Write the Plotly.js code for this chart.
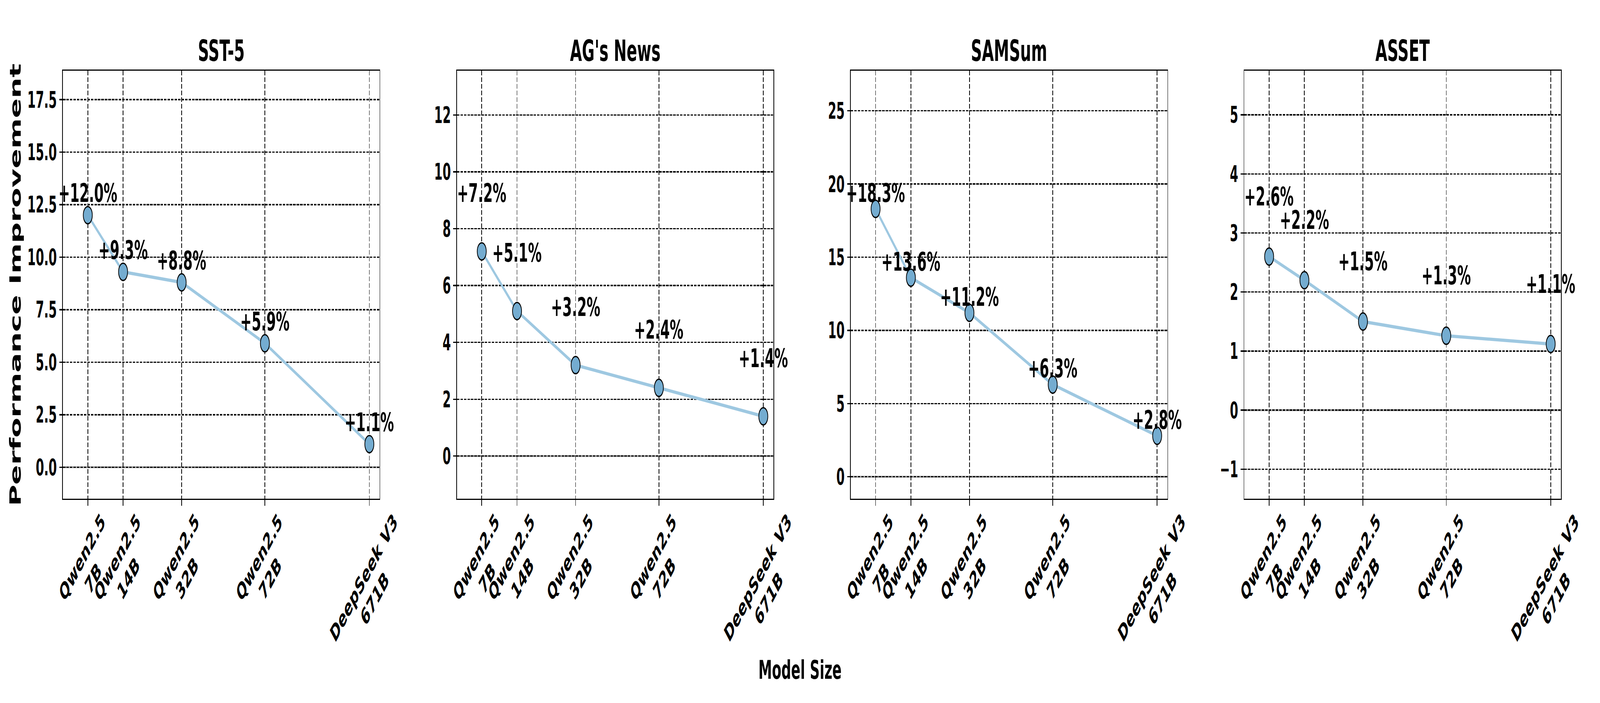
<!DOCTYPE html>
<html>
<head>
<meta charset="utf-8">
<script src="https://cdn.plot.ly/plotly-3.0.1.min.js"></script>
<style>
html,body{margin:0;padding:0;background:#fff;overflow:hidden;}
#wrap{position:relative;width:100vw;height:100vh;overflow:hidden;}
#chart{position:absolute;left:0;top:0;width:7800px;height:1800px;transform-origin:0 0;}
</style>
</head>
<body>
<div id="wrap"><div id="chart"></div></div>
<script>
// ---- data ----
const modelLabels = ['Qwen2.5<br>7B', 'Qwen2.5<br>14B', 'Qwen2.5<br>32B', 'Qwen2.5<br>72B', 'DeepSeek V3<br>671B'];
const modelAxisPos = [0, 1, 2.66, 5.02, 7.98];
const panelTitles = ['SST-5', "AG's News", 'SAMSum', 'ASSET'];
const sst5 = [12.0, 9.3, 8.8, 5.9, 1.1];
const agNews = [7.2, 5.1, 3.2, 2.4, 1.4];
const samsum = [18.3, 13.6, 11.2, 6.3, 2.8];
const asset = [2.6, 2.2, 1.5, 1.26, 1.12];
const yTickStep = [2.5, 2, 5, 1];
const yTickFormat = ['.1f', 'd', 'd', 'd'];

// ---- layout / style ----
const series = [sst5, agNews, samsum, asset];
const yRanges = [[-1.5, 18.87], [-1.5, 13.55], [-1.5, 27.73], [-1.5, 5.745]];
const labelOffset = [1.05, 2.05, 1.1, 1.02];
const xDomains = [[0.03936, 0.23724], [0.28558, 0.48346], [0.53173, 0.72962], [0.77769, 0.97558]];
const yDomain = [0.29056, 0.89922];
const xRange = [-0.7035, 8.27];
const FONT = 'DejaVu Sans, Liberation Sans, sans-serif';
const PT = 300 / 72;
const lineColor = '#9ec8e1';
const markerColor = '#74acd0';
const gridDash = '12px,5px';

const traces = [];
const annotations = [];
const shapes = [];
const layout = {
  width: 7800, height: 1800,
  margin: {l: 0, r: 0, t: 0, b: 0, pad: 0},
  paper_bgcolor: '#fff', plot_bgcolor: '#fff',
  showlegend: false,
  font: {family: FONT, color: '#000'},
  annotations: annotations,
  shapes: shapes
};

series.forEach((vals, i) => {
  const n = i === 0 ? '' : String(i + 1);
  const xa = 'x' + n, ya = 'y' + n;
  traces.push({
    type: 'scatter', mode: 'lines+markers',
    x: modelAxisPos, y: vals,
    xaxis: xa, yaxis: ya,
    line: {color: lineColor, width: 2 * PT},
    marker: {size: 44, color: markerColor, line: {color: '#000', width: 3.5}},
    hoverinfo: 'skip'
  });
  layout['xaxis' + n] = {
    domain: xDomains[i], anchor: ya, range: xRange,
    tickmode: 'array', tickvals: modelAxisPos, ticktext: modelLabels.map(() => ''),
    showticklabels: false,
    ticks: 'outside', ticklen: 3.5 * PT, tickwidth: 0.8 * PT, tickcolor: '#000',
    showline: true, mirror: true, linecolor: '#000', linewidth: 0.8 * PT,
    showgrid: true, gridcolor: '#000', gridwidth: 0.8 * PT, griddash: gridDash,
    zeroline: false, fixedrange: true
  };
  layout['yaxis' + n] = {
    domain: yDomain, anchor: xa, range: yRanges[i],
    tickmode: 'linear', tick0: 0, dtick: yTickStep[i], tickformat: yTickFormat[i],
    ticks: 'outside', ticklen: 3.5 * PT, tickwidth: 0.8 * PT, tickcolor: '#000',
    tickfont: {family: FONT, size: 14 * PT, weight: 'bold', color: '#000'},
    showline: true, mirror: true, linecolor: '#000', linewidth: 0.8 * PT,
    showgrid: true, gridcolor: '#000', gridwidth: 0.8 * PT, griddash: gridDash,
    zeroline: false, fixedrange: true
  };
  // grey reference line at zero, under the dashed grid
  shapes.push({
    type: 'line', layer: 'below',
    xref: xa + ' domain', x0: 0, x1: 1, yref: ya, y0: 0, y1: 0,
    line: {color: '#b3b3b3', width: 5}
  });
  // panel title
  annotations.push({
    xref: xa + ' domain', x: 0.5, yref: 'paper', y: 1 - 130 / 1800,
    xanchor: 'center', yanchor: 'middle', showarrow: false,
    text: panelTitles[i],
    font: {family: FONT, size: 18 * PT, weight: 'bold', color: '#000'}
  });
  // value labels
  vals.forEach((v, j) => {
    annotations.push({
      xref: xa, yref: ya, x: modelAxisPos[j], y: v + labelOffset[i],
      xanchor: 'center', yanchor: 'middle', showarrow: false,
      text: '+' + v.toFixed(1) + '%',
      font: {family: FONT, size: 16 * PT, weight: 'bold', color: '#000'}
    });
  });
  // rotated tick labels
  modelLabels.forEach((lab, j) => {
    annotations.push({
      xref: xa, yref: 'paper', x: modelAxisPos[j], y: 1 - 1300 / 1800,
      xanchor: 'center', yanchor: 'top', showarrow: false, borderpad: 0,
      textangle: -45, align: 'center',
      text: lab,
      font: {family: FONT, size: 14 * PT, weight: 'bold', color: '#000'}
    });
  });
});

annotations.push({
  xref: 'paper', yref: 'paper', x: 75 / 7800, y: (yDomain[0] + yDomain[1]) / 2,
  xanchor: 'center', yanchor: 'middle', showarrow: false, textangle: -90,
  text: 'Performance Improvement',
  font: {family: FONT, size: 18 * PT, weight: 'bold', color: '#000'}
});
annotations.push({
  xref: 'paper', yref: 'paper', x: 0.5, y: 1 - 1715 / 1800,
  xanchor: 'center', yanchor: 'middle', showarrow: false,
  text: 'Model Size',
  font: {family: FONT, size: 16 * PT, weight: 'bold', color: '#000'}
});

const chartEl = document.getElementById('chart');
Plotly.newPlot(chartEl, traces, layout, {staticPlot: true, displayModeBar: false}).then(() => {
  // the browser viewport may be smaller than 7800x1800: fit the whole figure into it
  const sx = (window.innerWidth || 7800) / 7800;
  const sy = (window.innerHeight || 1800) / 1800;
  chartEl.style.transform = 'scale(' + sx + ',' + sy + ')';
});
</script>
</body>
</html>
